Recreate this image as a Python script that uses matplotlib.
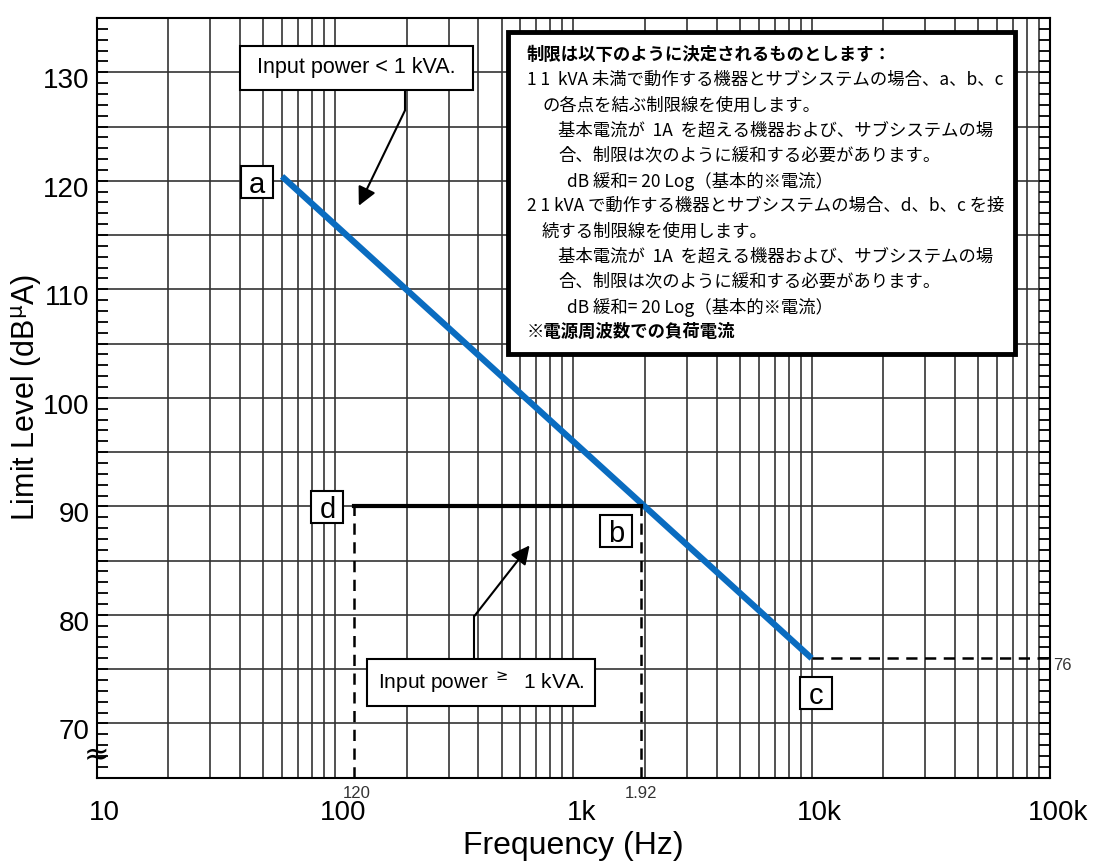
import numpy as np
import matplotlib
matplotlib.use('Agg')
from matplotlib import pyplot as plt
from matplotlib.patches import Rectangle
import matplotlib.transforms as mtransforms

plt.rcParams['font.family'] = ['Liberation Sans', 'DejaVu Sans']

# limit lines
freq_ac = [60, 10000]
level_ac = [120.4, 76]
freq_db = [120, 1920]
level_db = [90, 90]
freq_flat = [10000, 100000]
level_flat = [76, 76]
dash_freqs = [120, 1920]
dash_labels = ['120', '1.92']

# point letters (box centre positions)
pt_names = ['a', 'b', 'c', 'd']
pt_freq = [47, 1517, 10400, 93]
pt_level = [119.9, 87.7, 72.8, 89.9]

xtick_vals = [10, 100, 1000, 10000, 100000]
xtick_labels = ['10', '100', '1k', '10k', '100k']
ytick_vals = [70, 80, 90, 100, 110, 120, 130]

note_lines = [
    '制限は以下のように決定されるものとします：',
    '1 1  kVA 未満で動作する機器とサブシステムの場合、a、b、c',
    'の各点を結ぶ制限線を使用します。',
    '基本電流が  1A  を超える機器および、サブシステムの場',
    '合、制限は次のように緩和する必要があります。',
    'dB 緩和= 20 Log（基本的※電流）',
    '2 1 kVA で動作する機器とサブシステムの場合、d、b、c を接',
    '続する制限線を使用します。',
    '基本電流が  1A  を超える機器および、サブシステムの場',
    '合、制限は次のように緩和する必要があります。',
    'dB 緩和= 20 Log（基本的※電流）',
    '※電源周波数での負荷電流',
]
note_indent = [0, 0, 1, 2, 2, 3, 0, 1, 2, 2, 3, 0]
note_bold = [True] + [False] * 10 + [True]

fig = plt.figure(figsize=(11.02, 8.64), dpi=100)
ax = fig.add_axes([0.0876, 0.0999, 0.8652, 0.8793])
ax.set_xscale('log')
ax.set_xlim(10, 100000)
ax.set_ylim(65, 135)

# grid
ax.grid(True, which='both', axis='x', color='#333333', linewidth=1.2)
for yv in range(70, 135, 5):
    ax.axhline(yv, color='#333333', linewidth=1.2, zorder=0.5)
ax.set_axisbelow(True)

ax.plot(freq_ac, level_ac, color='#0a6cc0', linewidth=4.5, solid_capstyle='butt', zorder=3)
ax.plot(freq_db, level_db, color='black', linewidth=3, zorder=3)
ax.plot(freq_flat, level_flat, color='black', linewidth=1.8, linestyle=(0, (4.5, 3)), zorder=3)
for f, lab in zip(dash_freqs, dash_labels):
    ax.plot([f, f], [65, 90], color='black', linewidth=1.8, linestyle=(0, (4.5, 3)), zorder=3)
    ax.text(f, 64.2, lab, ha='left' if lab == '120' else 'center', va='top', fontsize=12,
            color='#333333', transform=mtransforms.offset_copy(ax.transData, fig, x=-8 if lab == '120' else 0, units='points'))
ax.text(1.003, 76, '76', transform=ax.get_yaxis_transform(), ha='left', va='top',
        fontsize=12, color='#333333')

# letter boxes
ax.plot(pt_freq, pt_level, linestyle='none', marker='s', markersize=23.5,
        markerfacecolor='white', markeredgecolor='black', markeredgewidth=1.5, zorder=5)
for name, f, lv in zip(pt_names, pt_freq, pt_level):
    ax.text(f, lv, name, ha='center', va='center', fontsize=21, zorder=6,
            transform=mtransforms.offset_copy(ax.transData, fig, y=-2, units='points'))

# annotation boxes
ax.text(123, 130.4, ' Input power < 1 kVA. ', ha='center', va='center', fontsize=15.5, zorder=5,
        bbox=dict(boxstyle='square,pad=0.52', facecolor='white', edgecolor='black', linewidth=1.5))
ax.plot([197, 197], [128.4, 126.5], color='black', linewidth=1.5, zorder=4)
ax.annotate('', xy=(126, 117.7), xytext=(197, 126.5),
            arrowprops=dict(arrowstyle='-|>', color='black', lw=1.5, mutation_scale=28, shrinkA=0, shrinkB=0), zorder=4)

ax.text(410, 73.8, r'Input power $^{\geq}$  1 kVA.', ha='center', va='center', fontsize=15, zorder=5,
        bbox=dict(boxstyle='square,pad=0.52', facecolor='white', edgecolor='black', linewidth=1.5))
ax.plot([385, 385], [75.8, 79.9], color='black', linewidth=1.5, zorder=4)
ax.annotate('', xy=(656, 86.4), xytext=(385, 79.9),
            arrowprops=dict(arrowstyle='-|>', color='black', lw=1.5, mutation_scale=28, shrinkA=0, shrinkB=0), zorder=4)

# note box
ax.add_patch(Rectangle((0.4316, 0.5577), 0.5317, 0.4239, transform=ax.transAxes,
                       facecolor='white', edgecolor='black', linewidth=3.5, zorder=6))
indent_x = [0.4515, 0.4672, 0.4840, 0.4934]
for i, (line, ind, bold) in enumerate(zip(note_lines, note_indent, note_bold)):
    ypx = 55 + 25.2 * i
    ax.text(indent_x[ind], 1 - (ypx - 18) / 759.7, line, transform=ax.transAxes,
            ha='left', va='center', fontsize=12.5, zorder=7,
            fontweight='bold' if bold else 'normal',
            family=['Noto Sans CJK JP', 'DejaVu Sans'])

# axis break mark
ax.text(0, 67, '≈', transform=ax.get_yaxis_transform(), ha='center', va='center',
        fontsize=22, family='DejaVu Sans', zorder=7)

# ticks
ax.set_xticks(xtick_vals)
ax.set_xticklabels(xtick_labels)
ax.tick_params(axis='x', which='both', length=0, pad=16, labelsize=20)
ax.set_yticks(ytick_vals)
ax.set_yticks(np.arange(66, 135, 1), minor=True)
ax.tick_params(axis='y', which='both', direction='in', length=8, width=1.3,
               left=True, right=True, labelsize=20, pad=5)
for lab in ax.get_xticklabels():
    lab.set_transform(lab.get_transform() + mtransforms.ScaledTranslation(8 / 100, 0, fig.dpi_scale_trans))
for lab in ax.get_yticklabels():
    lab.set_transform(lab.get_transform() + mtransforms.ScaledTranslation(0, -6 / 100, fig.dpi_scale_trans))

for s in ax.spines.values():
    s.set_linewidth(1.5)
    s.set_color('black')

ax.set_xlabel('Frequency (Hz)', fontsize=23, labelpad=4)
ax.set_ylabel(r'Limit Level (dB$^{\mathrm{µ}}$A)', fontsize=22)
ax.yaxis.set_label_coords(-0.055, 0.5)

plt.savefig('out.png', dpi=100)
